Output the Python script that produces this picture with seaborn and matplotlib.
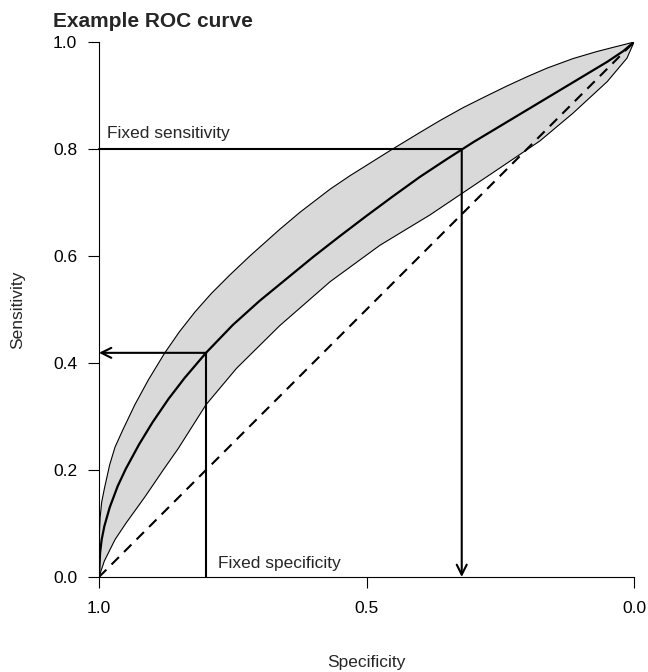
import numpy as np
import pandas as pd
import matplotlib
matplotlib.use("Agg")
import matplotlib.pyplot as plt
import seaborn as sns

# ROC curve, as (1 - specificity, sensitivity)
roc_fpr = [0, 0.002, 0.005, 0.01, 0.02, 0.035, 0.05, 0.075, 0.1, 0.13, 0.16,
           0.2, 0.25, 0.3, 0.35, 0.4, 0.45, 0.5, 0.55, 0.6, 0.65, 0.7, 0.75,
           0.8, 0.85, 0.9, 0.95, 0.98, 1]
roc_sens = [0, 0.045, 0.07, 0.095, 0.13, 0.17, 0.202, 0.248, 0.289, 0.333,
            0.372, 0.419, 0.471, 0.516, 0.557, 0.598, 0.637, 0.675, 0.712,
            0.748, 0.781, 0.813, 0.843, 0.873, 0.903, 0.933, 0.963, 0.983, 1]

# confidence band edges
upper_fpr = [0, 0.0005, 0.001, 0.002, 0.005, 0.01, 0.02, 0.03, 0.045, 0.067,
             0.092, 0.123, 0.15, 0.179, 0.21, 0.245, 0.282, 0.338, 0.376,
             0.432, 0.469, 0.544, 0.6, 0.637, 0.68, 0.72, 0.763, 0.8, 0.837,
             0.886, 0.93, 0.961, 0.985, 1]
upper_sens = [0, 0.06, 0.085, 0.11, 0.14, 0.165, 0.21, 0.243, 0.276, 0.322,
              0.368, 0.419, 0.458, 0.495, 0.53, 0.565, 0.6, 0.65, 0.682,
              0.725, 0.75, 0.797, 0.831, 0.853, 0.877, 0.897, 0.918, 0.935,
              0.951, 0.969, 0.982, 0.99, 0.996, 1]
lower_fpr = [0, 0.005, 0.01, 0.02, 0.03, 0.05, 0.086, 0.12, 0.148, 0.2, 0.257,
             0.338, 0.432, 0.525, 0.619, 0.68, 0.75, 0.824, 0.886, 0.95,
             0.987, 1]
lower_sens = [0, 0.015, 0.03, 0.05, 0.07, 0.1, 0.15, 0.2, 0.24, 0.322, 0.39,
              0.47, 0.552, 0.62, 0.677, 0.718, 0.765, 0.815, 0.867, 0.926,
              0.97, 1]

# chance line
diag_fpr = [0, 1]
diag_sens = [0, 1]

# fixed points
fixed_sens = 0.8
spec_at_fixed_sens = 0.322
fixed_spec = 0.8
sens_at_fixed_spec = 0.419

roc_spec = 1 - np.array(roc_fpr)
upper_spec = 1 - np.array(upper_fpr)
lower_spec = 1 - np.array(lower_fpr)
diag_spec = 1 - np.array(diag_fpr)

sns.set_style("ticks")
plt.rcParams['font.family'] = ['Liberation Sans', 'DejaVu Sans']
plt.rcParams['font.size'] = 12.5

fig = plt.figure(figsize=(6.48, 6.72), dpi=100)
ax = fig.add_axes([99 / 648, 1 - 577 / 672, 535 / 648, 535 / 672])

# band
band_x = np.concatenate([upper_spec, lower_spec[::-1]])
band_y = np.concatenate([upper_sens, lower_sens[::-1]])
ax.fill(band_x, band_y, facecolor='#d9d9d9', edgecolor='none', zorder=1)
sns.lineplot(x=upper_spec, y=upper_sens, color='black', lw=0.8, sort=False,
             ax=ax, zorder=2)
sns.lineplot(x=lower_spec, y=lower_sens, color='black', lw=0.8, sort=False,
             ax=ax, zorder=2)

# ROC curve and chance line
sns.lineplot(x=roc_spec, y=roc_sens, color='black', lw=1.6, sort=False,
             ax=ax, zorder=3)
ax.plot(diag_spec, diag_sens, color='black', lw=1.5, dashes=(5, 3.5), zorder=3)

# fixed sensitivity
ax.plot([1, spec_at_fixed_sens], [fixed_sens, fixed_sens], color='black',
        lw=1.5, clip_on=False, zorder=4)
ax.annotate('', xy=(spec_at_fixed_sens, 0), xytext=(spec_at_fixed_sens, fixed_sens),
            arrowprops=dict(arrowstyle='->', lw=1.5, color='black',
                            mutation_scale=18, shrinkA=0, shrinkB=0),
            annotation_clip=False, zorder=4)
ax.text(0.985, 0.8206, 'Fixed sensitivity', ha='left', va='baseline')

# fixed specificity
ax.plot([fixed_spec, fixed_spec], [0, sens_at_fixed_spec], color='black',
        lw=1.5, clip_on=False, zorder=4)
ax.annotate('', xy=(1, sens_at_fixed_spec), xytext=(fixed_spec, sens_at_fixed_spec),
            arrowprops=dict(arrowstyle='->', lw=1.5, color='black',
                            mutation_scale=18, shrinkA=0, shrinkB=0),
            annotation_clip=False, zorder=4)
ax.text(0.778, 0.0168, 'Fixed specificity', ha='left', va='baseline')

# axes in base-R style
ax.set_xlim(1, 0)
ax.set_ylim(0, 1)
ax.set_xticks([1.0, 0.5, 0.0])
ax.set_xticklabels(['1.0', '0.5', '0.0'])
ax.set_yticks([0.0, 0.2, 0.4, 0.6, 0.8, 1.0])
ax.set_yticklabels(['0.0', '0.2', '0.4', '0.6', '0.8', '1.0'])
sns.despine(ax=ax)
for side in ['left', 'bottom']:
    ax.spines[side].set_linewidth(0.8)
    ax.spines[side].set_color('black')
ax.tick_params(axis='both', direction='out', length=7.7, width=0.8,
               color='black', labelsize=12.5, labelcolor='black')
ax.tick_params(axis='x', pad=9.5)
ax.tick_params(axis='y', pad=7.9)

ax.set_xlabel('Specificity', fontsize=12.5)
ax.set_ylabel('Sensitivity', fontsize=12.5)
ax.xaxis.set_label_coords(0.5, -0.146)
ax.yaxis.set_label_coords(-0.138, 0.5)

fig.text(53 / 648, 1 - 27 / 672, 'Example ROC curve', fontsize=15,
         fontweight='bold', ha='left', va='baseline')

fig.savefig('out.png', dpi=100)
